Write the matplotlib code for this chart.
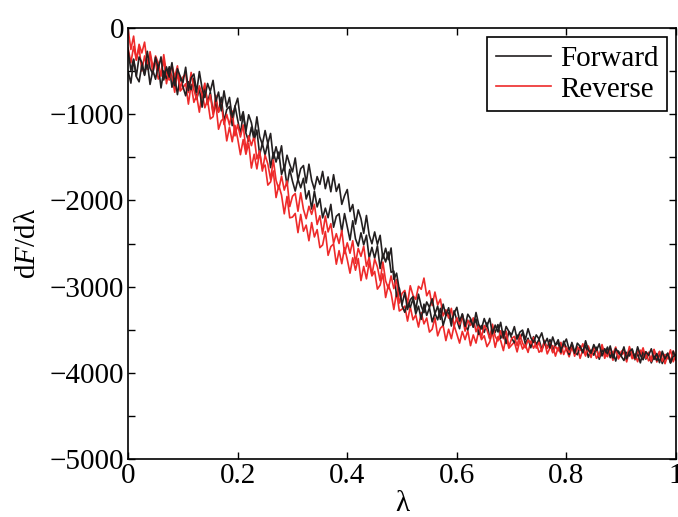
import numpy as np
import matplotlib
matplotlib.use('Agg')
import matplotlib.pyplot as plt
from matplotlib.ticker import MultipleLocator, FuncFormatter

plt.rcParams['font.family'] = ['Liberation Serif', 'DejaVu Serif']
plt.rcParams['mathtext.fontset'] = 'custom'
plt.rcParams['mathtext.rm'] = 'Liberation Serif'
plt.rcParams['mathtext.it'] = 'Liberation Serif:italic'

# lambda grid, step 0.005
lam = np.linspace(0, 1, 201)

# forward runs (black), dF/dlambda
fwd1 = [-265, -493, -361, -559, -337, -400, -538, -271, -469, -532, -340, -473, -336, -604, -452, -570, -403, -671, -474, -562,
        -635, -456, -727, -578, -534, -745, -506, -702, -808, -644, -735, -608, -856, -744, -962, -730, -918, -806, -1039, -912,
        -815, -1073, -971, -1199, -1007, -1100, -1268, -1031, -1259, -1352, -1190, -1342, -1224, -1511, -1378, -1515, -1367, -1654, -1476, -1583,
        -1670, -1508, -1766, -1632, -1596, -1798, -1580, -1768, -1872, -1724, -1814, -1664, -1864, -1728, -1900, -1702, -1896, -1810, -2046, -1946,
        -1874, -2129, -2048, -2275, -2110, -2211, -2382, -2175, -2402, -2503, -2366, -2511, -2405, -2676, -2555, -2687, -2552, -2915, -2844, -3039,
        -3205, -3070, -3265, -3152, -3116, -3267, -3088, -3228, -3302, -3178, -3241, -3141, -3316, -3227, -3380, -3203, -3334, -3245, -3409, -3309,
        -3240, -3400, -3320, -3460, -3320, -3370, -3470, -3300, -3440, -3490, -3370, -3459, -3368, -3547, -3446, -3525, -3414, -3593, -3462, -3521,
        -3560, -3464, -3608, -3528, -3504, -3616, -3488, -3592, -3648, -3560, -3608, -3536, -3664, -3600, -3712, -3584, -3680, -3616, -3736, -3664,
        -3608, -3732, -3664, -3772, -3656, -3692, -3768, -3628, -3736, -3772, -3672, -3740, -3664, -3804, -3720, -3780, -3688, -3828, -3720, -3764,
        -3800, -3699, -3838, -3753, -3724, -3831, -3698, -3797, -3848, -3755, -3798, -3721, -3844, -3775, -3882, -3749, -3840, -3771, -3886, -3809,
        -3790]
fwd2 = [-505, -640, -370, -565, -625, -430, -550, -400, -655, -490, -595, -428, -696, -499, -587, -450, -688, -566, -774, -562,
        -680, -787, -624, -716, -583, -825, -707, -919, -681, -863, -745, -981, -857, -973, -804, -1085, -946, -912, -1133, -904,
        -1065, -1232, -994, -1221, -1313, -1150, -1302, -1184, -1471, -1338, -1475, -1330, -1620, -1445, -1555, -1440, -1700, -1600, -1830, -1640,
        -1778, -1892, -1754, -1854, -1744, -1984, -1888, -2100, -1892, -2076, -1980, -2203, -2090, -2201, -2046, -2311, -2184, -2155, -2364, -2153,
        -2306, -2460, -2236, -2446, -2530, -2376, -2516, -2404, -2670, -2544, -2670, -2527, -2790, -2619, -2714, -2599, -2834, -2820, -3115, -3017,
        -3222, -3298, -3176, -3241, -3141, -3316, -3227, -3380, -3203, -3334, -3245, -3409, -3309, -3385, -3252, -3449, -3338, -3304, -3457, -3280,
        -3390, -3488, -3316, -3454, -3502, -3380, -3468, -3376, -3554, -3452, -3530, -3420, -3600, -3470, -3530, -3440, -3600, -3520, -3660, -3520,
        -3596, -3651, -3562, -3609, -3536, -3663, -3598, -3709, -3580, -3675, -3610, -3729, -3656, -3711, -3614, -3757, -3676, -3651, -3762, -3633,
        -3712, -3788, -3647, -3755, -3790, -3690, -3757, -3681, -3820, -3736, -3795, -3703, -3842, -3734, -3777, -3701, -3824, -3756, -3863, -3747,
        -3806, -3856, -3762, -3804, -3726, -3848, -3778, -3884, -3750, -3840, -3770, -3884, -3806, -3856, -3754, -3892, -3806, -3776, -3882, -3748,
        -3850]

# reverse runs (red)
rev1 = [-20, -250, -95, -375, -190, -290, -165, -415, -305, -525, -325, -405, -560, -310, -525, -605, -430, -570, -440, -715,
        -570, -532, -749, -516, -718, -830, -672, -769, -641, -888, -775, -1003, -781, -979, -877, -1120, -1003, -1126, -964, -1252,
        -1120, -1265, -1125, -1420, -1250, -1365, -1255, -1520, -1425, -1660, -1475, -1578, -1756, -1529, -1767, -1870, -1718, -1881, -1774, -2072,
        -1952, -1920, -2126, -1912, -2104, -2212, -2068, -2162, -2046, -2280, -2178, -2390, -2182, -2366, -2270, -2496, -2386, -2500, -2348, -2616,
        -2492, -2613, -2468, -2729, -2556, -2649, -2532, -2765, -2662, -2867, -2680, -2771, -2932, -2715, -2932, -3023, -2876, -3023, -2918, -3191,
        -3078, -3044, -3197, -2990, -3102, -3148, -2996, -3031, -2901, -3106, -3047, -3220, -3063, -3214, -3145, -3339, -3269, -3365, -3252, -3459,
        -3360, -3442, -3334, -3516, -3388, -3450, -3362, -3524, -3446, -3588, -3450, -3502, -3604, -3436, -3578, -3630, -3512, -3604, -3516, -3698,
        -3604, -3577, -3686, -3555, -3656, -3709, -3618, -3663, -3588, -3713, -3646, -3755, -3624, -3717, -3650, -3767, -3692, -3745, -3646, -3787,
        -3704, -3762, -3669, -3807, -3698, -3740, -3663, -3785, -3716, -3822, -3705, -3739, -3814, -3672, -3779, -3813, -3712, -3778, -3701, -3839,
        -3754, -3724, -3829, -3695, -3792, -3842, -3747, -3789, -3710, -3832, -3761, -3867, -3732, -3822, -3751, -3865, -3786, -3836, -3733, -3871,
        -3790]
rev2 = [-235, -405, -215, -370, -225, -500, -325, -480, -275, -445, -390, -593, -526, -369, -647, -475, -558, -746, -514, -732,
        -695, -647, -884, -656, -863, -785, -977, -749, -926, -833, -1055, -1030, -870, -1175, -1075, -1050, -1310, -1150, -1320, -1130,
        -1285, -1470, -1295, -1465, -1335, -1625, -1465, -1635, -1445, -1630, -1590, -1823, -1786, -1659, -1967, -1825, -1938, -2156, -1954, -2202,
        -2194, -2151, -2374, -2163, -2358, -2287, -2468, -2257, -2424, -2339, -2548, -2517, -2360, -2637, -2536, -2505, -2740, -2583, -2734, -2549,
        -2686, -2844, -2666, -2810, -2674, -2930, -2766, -2910, -2718, -2876, -2824, -3029, -2982, -2851, -3126, -2981, -3074, -3265, -3064, -3283,
        -3261, -3226, -3400, -3233, -3385, -3328, -3469, -3302, -3432, -3364, -3527, -3494, -3362, -3571, -3483, -3450, -3626, -3494, -3604, -3450,
        -3550, -3655, -3520, -3615, -3510, -3685, -3560, -3655, -3510, -3615, -3570, -3696, -3642, -3528, -3704, -3580, -3626, -3742, -3578, -3714,
        -3678, -3642, -3757, -3625, -3724, -3672, -3763, -3631, -3714, -3654, -3761, -3733, -3632, -3780, -3711, -3683, -3806, -3706, -3781, -3665,
        -3732, -3814, -3705, -3779, -3694, -3832, -3731, -3805, -3688, -3770, -3733, -3831, -3786, -3692, -3831, -3729, -3764, -3854, -3721, -3827,
        -3798, -3760, -3873, -3739, -3836, -3782, -3871, -3737, -3818, -3756, -3861, -3831, -3728, -3874, -3803, -3773, -3894, -3792, -3865, -3747,
        -3830]

black = '#231f20'
red = '#ee2a2a'

fig = plt.figure(figsize=(6.78, 5.17), dpi=100)
ax = fig.add_axes([0.189, 0.112, 0.808, 0.834])

ax.plot(lam, rev2, color=red, lw=1.2)
ax.plot(lam, fwd2, color=black, lw=1.2)
ax.plot(lam, rev1, color=red, lw=1.2, label='Reverse')
ax.plot(lam, fwd1, color=black, lw=1.2, label='Forward')

ax.set_xlim(0, 1)
ax.set_ylim(-5000, 0)
ax.xaxis.set_major_locator(MultipleLocator(0.2))
ax.yaxis.set_major_locator(MultipleLocator(500))
ax.yaxis.set_major_formatter(FuncFormatter(
    lambda v, p: '' if int(round(v)) % 1000 else ('%d' % v).replace('-', '\u2212')))
ax.xaxis.set_major_formatter(FuncFormatter(lambda v, p: '%g' % round(v, 1)))
ax.tick_params(direction='in', length=5, width=1, top=True, right=True,
               labelsize=21, pad=3)
for s in ax.spines.values():
    s.set_linewidth(1.2)

ax.set_xlabel('λ', fontsize=21)
ax.xaxis.set_label_coords(0.5, -0.075)
ax.set_ylabel('d$\\mathit{F}$/dλ', fontsize=21, labelpad=6)

h, l = ax.get_legend_handles_labels()
leg = ax.legend(h[::-1], l[::-1], loc='upper right', fontsize=21, fancybox=False,
                edgecolor='black', framealpha=1, handlelength=1.9,
                borderpad=0.3, labelspacing=0.15, handletextpad=0.3,
                borderaxespad=0.3)
leg.get_frame().set_linewidth(1.2)

fig.savefig('out.png', dpi=100)
